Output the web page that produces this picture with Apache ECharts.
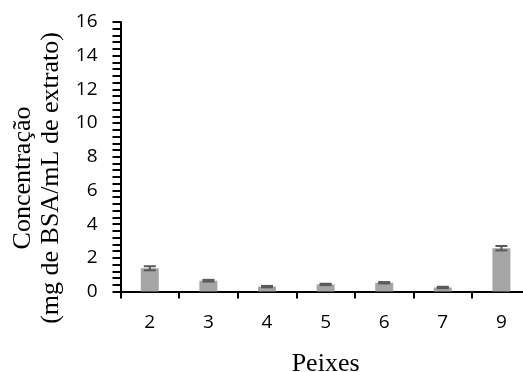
<!DOCTYPE html>
<html>
<head>
<meta charset="utf-8">
<script src="https://cdn.jsdelivr.net/npm/echarts@6/dist/echarts.min.js"></script>
<style>
  html, body { margin: 0; padding: 0; background: #ffffff; overflow: hidden; }
  #chart { width: 523px; height: 372px; }
</style>
</head>
<body>
<div id="chart"></div>
<script>
// Protein concentration per fish sample
const categories = ['2', '3', '4', '5', '6', '7', '9'];
const concentration = [1.38, 0.64, 0.29, 0.42, 0.52, 0.24, 2.57];
const stdError = [0.12, 0.05, 0.04, 0.04, 0.04, 0.04, 0.13];
const yTicks = { min: 0, max: 16, interval: 2 };

const serif = '"Liberation Serif", "Times New Roman", serif';
const sans = '"Open Sans", Lato, sans-serif';

const chart = echarts.init(document.getElementById('chart'));

chart.setOption({
  animation: false,
  backgroundColor: '#ffffff',
  grid: {
    left: 120.5, right: -7.7, top: 22, bottom: 80.5,
    containLabel: false,
    outerBoundsMode: 'none'
  },
  xAxis: {
    type: 'category',
    data: categories,
    boundaryGap: true,
    name: 'Peixes',
    nameLocation: 'middle',
    nameGap: 60,
    nameTextStyle: { fontFamily: serif, fontSize: 26, color: '#000' },
    axisLine: { lineStyle: { color: '#000', width: 2 } },
    axisTick: { show: true, alignWithLabel: false, length: 7, lineStyle: { color: '#000', width: 2 } },
    axisLabel: { fontFamily: sans, fontSize: 19, color: '#000', margin: 22 },
    splitLine: { show: false }
  },
  yAxis: {
    type: 'value',
    min: yTicks.min,
    max: yTicks.max,
    interval: yTicks.interval,
    axisLine: { show: true, lineStyle: { color: '#000', width: 2 } },
    axisTick: { show: true, length: 8, lineStyle: { color: '#000', width: 2 } },
    minorTick: { show: true, splitNumber: 5, length: 8, lineStyle: { color: '#000', width: 2 } },
    axisLabel: { fontFamily: sans, fontSize: 19, color: '#000', margin: 23 },
    splitLine: { show: false }
  },
  graphic: [{
    type: 'text',
    x: 37,
    y: 178,
    rotation: Math.PI / 2,
    style: {
      text: 'Concentração\n(mg de BSA/mL de extrato)',
      font: '26px ' + serif,
      fill: '#000',
      align: 'center',
      verticalAlign: 'middle',
      lineHeight: 28
    }
  }],
  series: [
    {
      type: 'bar',
      data: concentration,
      barWidth: 18,
      itemStyle: { color: '#a5a5a5' },
      z: 2
    },
    {
      type: 'custom',
      z: 3,
      data: concentration.map((v, i) => [i, v - stdError[i], v + stdError[i]]),
      renderItem: function (params, api) {
        const lo = api.coord([api.value(0), api.value(1)]);
        const hi = api.coord([api.value(0), api.value(2)]);
        const half = 6;
        const stroke = { stroke: '#595959', lineWidth: 2 };
        return {
          type: 'group',
          children: [
            { type: 'line', shape: { x1: hi[0], y1: hi[1], x2: lo[0], y2: lo[1] }, style: stroke },
            { type: 'line', shape: { x1: hi[0] - half, y1: hi[1], x2: hi[0] + half, y2: hi[1] }, style: stroke },
            { type: 'line', shape: { x1: lo[0] - half, y1: lo[1], x2: lo[0] + half, y2: lo[1] }, style: stroke }
          ]
        };
      }
    }
  ]
});
</script>
</body>
</html>
